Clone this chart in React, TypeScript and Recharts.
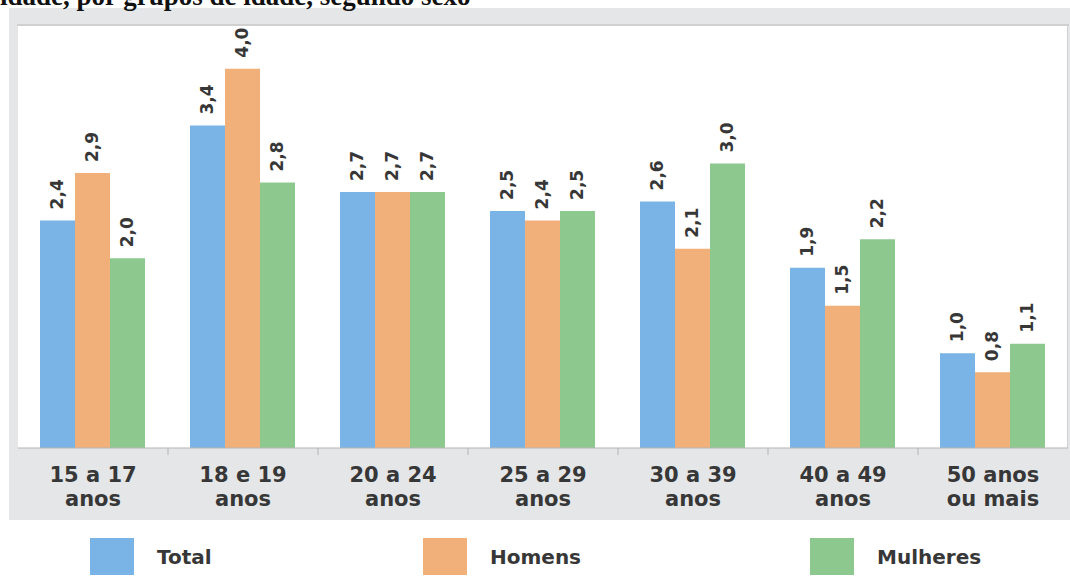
import React from "react";
import { BarChart, Bar, XAxis, YAxis, LabelList } from "recharts";

// Age groups (two-line labels) and the three series, in percent
const AGE_GROUPS = [
  "15 a 17\nanos",
  "18 e 19\nanos",
  "20 a 24\nanos",
  "25 a 29\nanos",
  "30 a 39\nanos",
  "40 a 49\nanos",
  "50 anos\nou mais",
];
const TOTAL = [2.4, 3.4, 2.7, 2.5, 2.6, 1.9, 1.0];
const HOMENS = [2.9, 4.0, 2.7, 2.4, 2.1, 1.5, 0.8];
const MULHERES = [2.0, 2.8, 2.7, 2.5, 3.0, 2.2, 1.1];

const SERIES = [
  { key: "total", name: "Total", color: "#7ab3e6" },
  { key: "homens", name: "Homens", color: "#f1b07a" },
  { key: "mulheres", name: "Mulheres", color: "#8dc98f" },
];

const data = AGE_GROUPS.map((group, i) => ({
  group,
  total: TOTAL[i],
  homens: HOMENS[i],
  mulheres: MULHERES[i],
}));

const FONT = "'DejaVu Sans', sans-serif";
const TEXT = "#373737";
const BAND = 150;

const fmt = (v: number) => v.toFixed(1).replace(".", ",");

function ValueLabel({ x, y, width, value }: any) {
  const cx = x + width / 2;
  const ty = y - 11;
  return (
    <text
      x={cx}
      y={ty}
      transform={`rotate(-90 ${cx} ${ty})`}
      textAnchor="start"
      dominantBaseline="central"
      fontFamily={FONT}
      fontWeight="bold"
      fontSize={17}
      fill={TEXT}
    >
      {fmt(value)}
    </text>
  );
}

function AgeTick({ x, y, payload, index }: any) {
  const lines = String(payload.value).split("\n");
  const edge = x - BAND / 2;
  return (
    <g>
      {index > 0 && (
        <line x1={edge} x2={edge} y1={y - 8} y2={y - 1} stroke="#b4b4b4" />
      )}
      <text
        x={x}
        y={y}
        textAnchor="middle"
        fontFamily={FONT}
        fontWeight="bold"
        fontSize={21}
        fill={TEXT}
      >
        {lines.map((l, i) => (
          <tspan key={i} x={x} dy={i === 0 ? 26 : 24}>
            {l}
          </tspan>
        ))}
      </text>
    </g>
  );
}

export default function App() {
  return (
    <div
      style={{
        position: "absolute",
        left: 0,
        top: 0,
        width: 1070,
        height: 578,
        overflow: "hidden",
        background: "#fff",
      }}
    >
      {/* grey frame, plot panel and its borders */}
      <div style={{ position: "absolute", left: 9, top: 8, width: 1061, height: 512, background: "#e4e6e8" }} />
      <div style={{ position: "absolute", left: 18, top: 26, width: 1050, height: 422, background: "#fff" }} />
      <div style={{ position: "absolute", left: 17, top: 24, width: 1052, height: 2, background: "#d0d0d0" }} />
      <div style={{ position: "absolute", left: 1067, top: 24, width: 1, height: 424, background: "#d0d0d0" }} />

      <div style={{ position: "absolute", left: 0, top: 0 }}>
        <BarChart
          width={1070}
          height={578}
          data={data}
          margin={{ top: 26, right: 2, bottom: 58, left: 18 }}
          barCategoryGap={22}
          barGap={0}
        >
          <XAxis
            dataKey="group"
            height={72}
            interval={0}
            tickLine={false}
            axisLine={{ stroke: "#b4b4b4" }}
            tick={<AgeTick />}
          />
          <YAxis
            domain={[0, 4.45]}
            width={0}
            tick={false}
            tickLine={false}
            axisLine={{ stroke: "#c2c2c2" }}
          />
          {SERIES.map((s) => (
            <Bar key={s.key} dataKey={s.key} name={s.name} fill={s.color} isAnimationActive={false}>
              <LabelList dataKey={s.key} content={<ValueLabel />} />
            </Bar>
          ))}
        </BarChart>
      </div>

      <div
        style={{
          position: "absolute",
          left: 0,
          top: -17,
          whiteSpace: "nowrap",
          fontFamily: "'Liberation Serif', serif",
          fontWeight: "bold",
          fontSize: 27,
          lineHeight: "27px",
          color: "#111",
        }}
      >
        idade, por grupos de idade, segundo sexo
      </div>

      {SERIES.map((s, i) => (
        <div
          key={s.key}
          style={{
            position: "absolute",
            left: [90, 423, 810][i],
            top: 538,
            height: 37,
            display: "flex",
            alignItems: "center",
          }}
        >
          <div style={{ width: 44, height: 37, background: s.color }} />
          <span
            style={{
              marginLeft: 23,
              fontFamily: FONT,
              fontWeight: "bold",
              fontSize: 20,
              color: TEXT,
            }}
          >
            {s.name}
          </span>
        </div>
      ))}
    </div>
  );
}
